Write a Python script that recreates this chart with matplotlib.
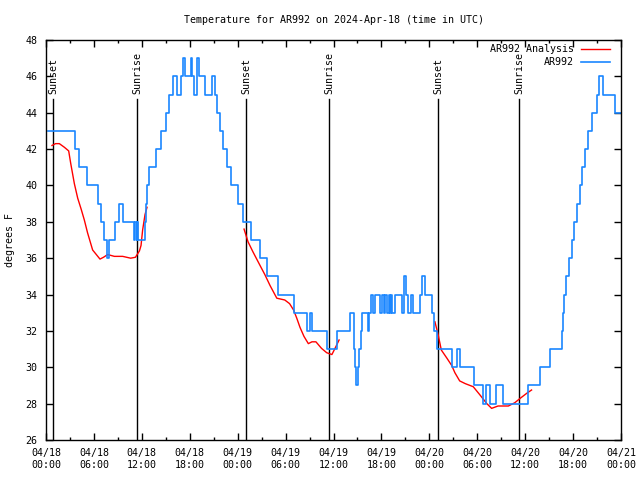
import numpy as np
import pandas as pd
import matplotlib
matplotlib.use("Agg")
import matplotlib.pyplot as plt
import matplotlib.dates as mdates

start = pd.Timestamp("2024-04-18 00:00")

# AR992 observations: hour offset (from start) where each reading begins, and reading in F
obs_hours = [0.2, 3.65, 4.15, 5.1, 6.45, 6.9, 7.25, 7.7, 7.9, 8.6, 9.2, 9.65, 11.0, 11.2, 11.35,
             11.45, 11.55, 12.35, 12.5, 12.7, 12.95, 13.75, 14.4, 15.0, 15.45, 15.9, 16.4, 16.95,
             17.15, 17.45, 18.15, 18.3, 18.5, 18.9, 19.2, 19.95, 20.75, 21.1, 21.4, 21.85, 22.15,
             22.7, 23.2, 24.0, 24.65, 25.7, 26.75, 27.65, 29.05, 31.0, 32.7, 33.0, 33.25, 35.2,
             36.4, 38.1, 38.55, 38.65, 38.8, 39.05, 39.2, 39.4, 39.6, 40.3, 40.5, 40.65, 41.0,
             41.2, 41.8, 42.1, 42.3, 42.5, 42.65, 42.9, 43.05, 43.2, 43.35, 43.65, 44.6, 44.85,
             45.05, 45.3, 45.7, 46.0, 46.8, 47.1, 47.4, 48.35, 48.6, 49.0, 50.8, 51.5, 51.85,
             53.6, 54.7, 55.15, 55.65, 56.4, 57.2, 60.4, 61.9, 63.1, 64.65, 64.75, 64.85, 65.1,
             65.5, 65.9, 66.15, 66.5, 66.85, 67.15, 67.45, 67.85, 68.35, 69.05, 69.3, 69.75,
             71.3, 72.0]
obs_temps = [43, 42, 41, 40, 39, 38, 37, 36, 37, 38, 39, 38, 37, 38, 37,
             38, 37, 38, 39, 40, 41, 42, 43, 44, 45, 46, 45, 46,
             47, 46, 47, 46, 45, 47, 46, 45, 46, 45, 44, 43, 42,
             41, 40, 39, 38, 37, 36, 35, 34, 33, 32, 33, 32, 31,
             32, 33, 31, 30, 29, 30, 31, 32, 33, 32, 33, 34, 33,
             34, 33, 34, 33, 34, 33, 34, 33, 34, 33, 34, 33, 35,
             34, 33, 34, 33, 34, 35, 34, 33, 32, 31, 30, 31, 30,
             29, 28, 29, 28, 29, 28, 29, 30, 31, 32, 33, 34, 35,
             36, 37, 38, 39, 40, 41, 42, 43, 44, 45, 46, 45,
             44, 44]

# AR992 Analysis, three overnight runs
ana1_hours = [0.75, 1.2, 1.67, 2.3, 2.84, 3.1, 3.55, 3.97, 4.4, 4.8, 5.2, 5.84, 6.3, 6.76,
              7.2, 7.72, 8.56, 9.6, 10.6, 11.2, 11.7, 11.9, 12.1, 12.4, 12.65]
ana1_temps = [42.2, 42.3, 42.3, 42.1, 41.9, 41.2, 40.1, 39.3, 38.7, 38.1, 37.4, 36.45, 36.2,
              35.95, 36.05, 36.2, 36.1, 36.1, 36.0, 36.05, 36.4, 36.7, 37.55, 38.4, 38.8]
ana2_hours = [24.8, 25.3, 25.9, 26.8, 27.4, 28.05, 28.9, 29.4, 29.9, 30.5, 31.0, 31.4, 31.8,
              32.3, 32.85, 33.3, 33.8, 34.5, 35.15, 35.8, 36.2, 36.7]
ana2_temps = [37.6, 36.9, 36.36, 35.6, 35.1, 34.5, 33.8, 33.75, 33.7, 33.5, 33.15, 32.7, 32.2,
              31.7, 31.3, 31.4, 31.4, 31.04, 30.8, 30.7, 31.05, 31.5]
ana3_hours = [48.7, 49.1, 49.5, 50.2, 50.8, 51.2, 51.8, 52.5, 53.5, 54.3, 55.2, 55.8, 56.6,
              57.9, 58.7, 59.4, 60.2, 60.8]
ana3_temps = [32.5, 31.8, 30.95, 30.5, 30.1, 29.7, 29.25, 29.1, 28.93, 28.5, 28.0, 27.74,
              27.87, 27.87, 28.05, 28.3, 28.57, 28.75]

sun_hours = [0.88, 11.39, 25.04, 35.44, 49.09, 59.23]
sun_labels = ["Sunset", "Sunrise", "Sunset", "Sunrise", "Sunset", "Sunrise"]

blue = "#1a86ff"
red = "#ff0000"


def to_time(hours):
    return start + pd.to_timedelta(hours, unit="h")


plt.rcParams["font.family"] = "DejaVu Sans Mono"
plt.rcParams["font.size"] = 7.2

fig = plt.figure(figsize=(6.4, 4.8), dpi=100)
ax = fig.add_axes([46 / 640, 40 / 480, 575 / 640, 400 / 480])

for h, lab in zip(sun_hours, sun_labels):
    t = to_time(h)
    ax.plot([t, t], [26, 44.75], color="black", lw=1.0)
    ax.text(t, 45.05, lab, rotation=90, ha="center", va="bottom")

for hh, tt in [(ana1_hours, ana1_temps), (ana2_hours, ana2_temps), (ana3_hours, ana3_temps)]:
    ax.plot(to_time(hh), tt, color=red, lw=1.0)

ax.plot(to_time(obs_hours), obs_temps, color=blue, lw=1.2, drawstyle="steps-post")

ax.set_xlim(to_time(0), to_time(72))
ax.set_ylim(26, 48)
ax.set_yticks(range(26, 49, 2))
ax.xaxis.set_major_locator(mdates.HourLocator(byhour=[0, 6, 12, 18]))
ax.xaxis.set_minor_locator(mdates.HourLocator(byhour=[3, 9, 15, 21]))
ax.xaxis.set_major_formatter(mdates.DateFormatter("%m/%d\n%H:%M"))
ax.tick_params(which="both", direction="in", top=True, right=True, width=1)
ax.tick_params(which="major", length=5, pad=6)
ax.tick_params(which="minor", length=2.5)
for s in ax.spines.values():
    s.set_linewidth(1)

ax.set_ylabel("degrees F", labelpad=8)
ax.set_title("Temperature for AR992 on 2024-Apr-18 (time in UTC)", fontsize=7.2, pad=12)

# gnuplot-style key: right-aligned text, sample line on the right
ax.text(0.918, 0.9775, "AR992 Analysis", transform=ax.transAxes, ha="right", va="center")
ax.plot([0.930, 0.981], [0.9775, 0.9775], transform=ax.transAxes, color=red, lw=1.0)
ax.text(0.918, 0.945, "AR992", transform=ax.transAxes, ha="right", va="center")
ax.plot([0.930, 0.981], [0.945, 0.945], transform=ax.transAxes, color=blue, lw=1.2)

fig.savefig("out.png", dpi=100)
